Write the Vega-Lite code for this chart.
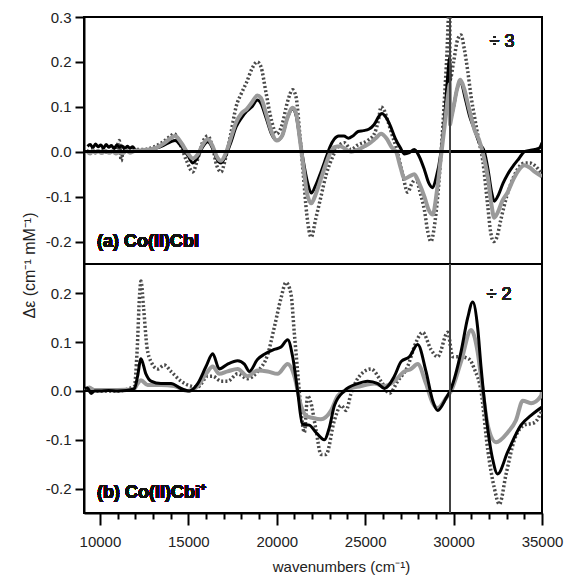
{
  "$schema": "https://vega.github.io/schema/vega-lite/v6.json",
  "background": "white",
  "padding": {"left": 20, "top": 9, "right": 0, "bottom": 0},
  "spacing": 0,
  "bounds": "flush",
  "config": {
    "font": "Liberation Sans",
    "view": {"stroke": "#000", "strokeWidth": 2},
    "axis": {
      "grid": false,
      "labelFont": "Liberation Sans",
      "titleFont": "Liberation Sans",
      "labelColor": "#222",
      "titleColor": "#222",
      "labelFontSize": 15,
      "titleFontSize": 15,
      "titleFontWeight": "normal",
      "domainColor": "#000",
      "domainWidth": 2,
      "tickColor": "#000",
      "tickWidth": 2
    }
  },
  "datasets": {
    "cbl": [
      {"s":"A","x":9300,"y":0.012},{"s":"A","x":9450,"y":0.016},{"s":"A","x":9600,"y":0.009},{"s":"A","x":9750,"y":0.017},{"s":"A","x":9900,"y":0.011},{"s":"A","x":10050,"y":0.015},{"s":"A","x":10200,"y":0.008},{"s":"A","x":10350,"y":0.016},{"s":"A","x":10500,"y":0.01},{"s":"A","x":10650,"y":0.014},{"s":"A","x":10800,"y":0.007},{"s":"A","x":10950,"y":0.015},{"s":"A","x":11100,"y":0.01},{"s":"A","x":11250,"y":0.013},{"s":"A","x":11400,"y":0.006},{"s":"A","x":11550,"y":0.012},{"s":"A","x":11700,"y":0.008},{"s":"A","x":11850,"y":0.011},{"s":"A","x":12000,"y":0.004},{"s":"A","x":12200,"y":0.002},{"s":"A","x":12500,"y":0.003},{"s":"A","x":12800,"y":0.005},{"s":"A","x":13200,"y":0.008},{"s":"A","x":13600,"y":0.014},{"s":"A","x":14000,"y":0.022},{"s":"A","x":14250,"y":0.025},{"s":"A","x":14600,"y":0.012},{"s":"A","x":15000,"y":-0.01},{"s":"A","x":15250,"y":-0.025},{"s":"A","x":15500,"y":-0.015},{"s":"A","x":15800,"y":0.01},{"s":"A","x":16100,"y":0.022},{"s":"A","x":16400,"y":0.005},{"s":"A","x":16600,"y":-0.015},{"s":"A","x":16850,"y":-0.025},{"s":"A","x":17100,"y":-0.01},{"s":"A","x":17400,"y":0.02},{"s":"A","x":17700,"y":0.055},{"s":"A","x":18000,"y":0.075},{"s":"A","x":18300,"y":0.09},{"s":"A","x":18600,"y":0.1},{"s":"A","x":18900,"y":0.115},{"s":"A","x":19100,"y":0.108},{"s":"A","x":19400,"y":0.075},{"s":"A","x":19700,"y":0.04},{"s":"A","x":20000,"y":0.025},{"s":"A","x":20300,"y":0.035},{"s":"A","x":20600,"y":0.075},{"s":"A","x":20900,"y":0.095},{"s":"A","x":21100,"y":0.08},{"s":"A","x":21300,"y":0.03},{"s":"A","x":21500,"y":-0.02},{"s":"A","x":21750,"y":-0.07},{"s":"A","x":21950,"y":-0.092},{"s":"A","x":22200,"y":-0.075},{"s":"A","x":22500,"y":-0.045},{"s":"A","x":22800,"y":-0.012},{"s":"A","x":23000,"y":0.01},{"s":"A","x":23250,"y":0.028},{"s":"A","x":23500,"y":0.035},{"s":"A","x":23800,"y":0.035},{"s":"A","x":24050,"y":0.03},{"s":"A","x":24300,"y":0.035},{"s":"A","x":24600,"y":0.045},{"s":"A","x":24900,"y":0.047},{"s":"A","x":25200,"y":0.05},{"s":"A","x":25500,"y":0.06},{"s":"A","x":25800,"y":0.08},{"s":"A","x":25950,"y":0.085},{"s":"A","x":26150,"y":0.078},{"s":"A","x":26400,"y":0.06},{"s":"A","x":26700,"y":0.03},{"s":"A","x":27000,"y":0.008},{"s":"A","x":27220,"y":-0.005},{"s":"A","x":27500,"y":-0.002},{"s":"A","x":27780,"y":0.005},{"s":"A","x":28050,"y":-0.01},{"s":"A","x":28350,"y":-0.04},{"s":"A","x":28600,"y":-0.07},{"s":"A","x":28820,"y":-0.08},{"s":"A","x":29000,"y":-0.06},{"s":"A","x":29290,"y":0.0},{"s":"A","x":29500,"y":0.08},{"s":"A","x":29670,"y":0.17},{"s":"A","x":29785,"y":0.21},{"s":"A","x":29795,"y":0.07},{"s":"A","x":30000,"y":0.1},{"s":"A","x":30200,"y":0.14},{"s":"A","x":30400,"y":0.155},{"s":"A","x":30650,"y":0.12},{"s":"A","x":30900,"y":0.08},{"s":"A","x":31175,"y":0.05},{"s":"A","x":31450,"y":0.02},{"s":"A","x":31740,"y":0.0},{"s":"A","x":31950,"y":-0.04},{"s":"A","x":32150,"y":-0.09},{"s":"A","x":32300,"y":-0.11},{"s":"A","x":32550,"y":-0.095},{"s":"A","x":32800,"y":-0.07},{"s":"A","x":33060,"y":-0.05},{"s":"A","x":33400,"y":-0.03},{"s":"A","x":33700,"y":-0.015},{"s":"A","x":34000,"y":0.0},{"s":"A","x":34300,"y":0.003},{"s":"A","x":34600,"y":0.005},{"s":"A","x":34850,"y":0.008},{"s":"A","x":35000,"y":0.02},

      {"s":"B","x":9300,"y":0.0},{"s":"B","x":9450,"y":-0.004},{"s":"B","x":9600,"y":0.003},{"s":"B","x":9750,"y":-0.002},{"s":"B","x":9900,"y":0.002},{"s":"B","x":10100,"y":-0.003},{"s":"B","x":10300,"y":0.002},{"s":"B","x":10500,"y":-0.002},{"s":"B","x":10700,"y":0.001},{"s":"B","x":10900,"y":-0.004},{"s":"B","x":11100,"y":0.0},{"s":"B","x":11300,"y":-0.003},{"s":"B","x":11500,"y":0.002},{"s":"B","x":11700,"y":-0.002},{"s":"B","x":11900,"y":0.001},{"s":"B","x":12300,"y":0.003},{"s":"B","x":12800,"y":0.005},{"s":"B","x":13200,"y":0.009},{"s":"B","x":13600,"y":0.018},{"s":"B","x":14000,"y":0.03},{"s":"B","x":14250,"y":0.035},{"s":"B","x":14600,"y":0.02},{"s":"B","x":15000,"y":-0.005},{"s":"B","x":15250,"y":-0.015},{"s":"B","x":15550,"y":-0.005},{"s":"B","x":15800,"y":0.015},{"s":"B","x":16100,"y":0.028},{"s":"B","x":16400,"y":0.01},{"s":"B","x":16600,"y":-0.01},{"s":"B","x":16850,"y":-0.02},{"s":"B","x":17100,"y":-0.005},{"s":"B","x":17400,"y":0.03},{"s":"B","x":17700,"y":0.065},{"s":"B","x":18000,"y":0.085},{"s":"B","x":18300,"y":0.095},{"s":"B","x":18600,"y":0.11},{"s":"B","x":18900,"y":0.125},{"s":"B","x":19100,"y":0.12},{"s":"B","x":19400,"y":0.085},{"s":"B","x":19700,"y":0.045},{"s":"B","x":20000,"y":0.025},{"s":"B","x":20300,"y":0.035},{"s":"B","x":20600,"y":0.075},{"s":"B","x":20900,"y":0.098},{"s":"B","x":21100,"y":0.085},{"s":"B","x":21300,"y":0.03},{"s":"B","x":21500,"y":-0.03},{"s":"B","x":21700,"y":-0.09},{"s":"B","x":21950,"y":-0.115},{"s":"B","x":22200,"y":-0.095},{"s":"B","x":22500,"y":-0.06},{"s":"B","x":22800,"y":-0.025},{"s":"B","x":23000,"y":-0.005},{"s":"B","x":23250,"y":0.01},{"s":"B","x":23600,"y":0.012},{"s":"B","x":24000,"y":0.003},{"s":"B","x":24200,"y":0.0},{"s":"B","x":24600,"y":0.005},{"s":"B","x":24950,"y":0.012},{"s":"B","x":25300,"y":0.02},{"s":"B","x":25600,"y":0.03},{"s":"B","x":25900,"y":0.04},{"s":"B","x":26200,"y":0.03},{"s":"B","x":26500,"y":0.01},{"s":"B","x":26750,"y":0.0},{"s":"B","x":27000,"y":-0.035},{"s":"B","x":27220,"y":-0.06},{"s":"B","x":27500,"y":-0.055},{"s":"B","x":27780,"y":-0.05},{"s":"B","x":28050,"y":-0.07},{"s":"B","x":28350,"y":-0.1},{"s":"B","x":28600,"y":-0.13},{"s":"B","x":28820,"y":-0.14},{"s":"B","x":29050,"y":-0.09},{"s":"B","x":29290,"y":-0.01},{"s":"B","x":29500,"y":0.06},{"s":"B","x":29700,"y":0.13},{"s":"B","x":29785,"y":0.15},{"s":"B","x":29795,"y":0.06},{"s":"B","x":29850,"y":0.07},{"s":"B","x":30000,"y":0.1},{"s":"B","x":30200,"y":0.14},{"s":"B","x":30380,"y":0.16},{"s":"B","x":30600,"y":0.14},{"s":"B","x":30850,"y":0.1},{"s":"B","x":31175,"y":0.05},{"s":"B","x":31450,"y":0.025},{"s":"B","x":31700,"y":-0.01},{"s":"B","x":31950,"y":-0.06},{"s":"B","x":32150,"y":-0.12},{"s":"B","x":32300,"y":-0.147},{"s":"B","x":32500,"y":-0.135},{"s":"B","x":32750,"y":-0.11},{"s":"B","x":33060,"y":-0.09},{"s":"B","x":33400,"y":-0.06},{"s":"B","x":33700,"y":-0.04},{"s":"B","x":34000,"y":-0.03},{"s":"B","x":34300,"y":-0.035},{"s":"B","x":34600,"y":-0.045},{"s":"B","x":35000,"y":-0.055},

      {"s":"C","x":9300,"y":0.0},{"s":"C","x":9500,"y":0.005},{"s":"C","x":9800,"y":-0.003},{"s":"C","x":10100,"y":0.004},{"s":"C","x":10500,"y":-0.002},{"s":"C","x":10900,"y":0.003},{"s":"C","x":11100,"y":0.025},{"s":"C","x":11200,"y":-0.02},{"s":"C","x":11350,"y":0.01},{"s":"C","x":11600,"y":0.0},{"s":"C","x":12000,"y":0.005},{"s":"C","x":12500,"y":0.005},{"s":"C","x":13000,"y":0.01},{"s":"C","x":13500,"y":0.02},{"s":"C","x":14000,"y":0.035},{"s":"C","x":14200,"y":0.04},{"s":"C","x":14500,"y":0.02},{"s":"C","x":14900,"y":-0.02},{"s":"C","x":15250,"y":-0.045},{"s":"C","x":15500,"y":-0.02},{"s":"C","x":15800,"y":0.02},{"s":"C","x":16100,"y":0.035},{"s":"C","x":16400,"y":0.005},{"s":"C","x":16600,"y":-0.03},{"s":"C","x":16850,"y":-0.045},{"s":"C","x":17100,"y":-0.015},{"s":"C","x":17400,"y":0.04},{"s":"C","x":17700,"y":0.1},{"s":"C","x":18000,"y":0.13},{"s":"C","x":18300,"y":0.155},{"s":"C","x":18600,"y":0.185},{"s":"C","x":18900,"y":0.2},{"s":"C","x":19100,"y":0.19},{"s":"C","x":19400,"y":0.13},{"s":"C","x":19700,"y":0.07},{"s":"C","x":20000,"y":0.04},{"s":"C","x":20300,"y":0.06},{"s":"C","x":20600,"y":0.11},{"s":"C","x":20900,"y":0.138},{"s":"C","x":21100,"y":0.12},{"s":"C","x":21300,"y":0.04},{"s":"C","x":21500,"y":-0.05},{"s":"C","x":21700,"y":-0.14},{"s":"C","x":21950,"y":-0.19},{"s":"C","x":22200,"y":-0.15},{"s":"C","x":22500,"y":-0.1},{"s":"C","x":22800,"y":-0.05},{"s":"C","x":23070,"y":-0.02},{"s":"C","x":23450,"y":0.01},{"s":"C","x":23820,"y":0.02},{"s":"C","x":24200,"y":0.005},{"s":"C","x":24580,"y":0.015},{"s":"C","x":25140,"y":0.025},{"s":"C","x":25520,"y":0.04},{"s":"C","x":25750,"y":0.07},{"s":"C","x":25900,"y":0.1},{"s":"C","x":26100,"y":0.09},{"s":"C","x":26270,"y":0.07},{"s":"C","x":26500,"y":0.04},{"s":"C","x":26750,"y":0.01},{"s":"C","x":27120,"y":-0.05},{"s":"C","x":27400,"y":-0.09},{"s":"C","x":27650,"y":-0.07},{"s":"C","x":27880,"y":-0.06},{"s":"C","x":28100,"y":-0.09},{"s":"C","x":28350,"y":-0.13},{"s":"C","x":28550,"y":-0.18},{"s":"C","x":28720,"y":-0.2},{"s":"C","x":28900,"y":-0.17},{"s":"C","x":29100,"y":-0.1},{"s":"C","x":29380,"y":0.05},{"s":"C","x":29600,"y":0.2},{"s":"C","x":29785,"y":0.34},{"s":"C","x":29795,"y":0.16},{"s":"C","x":30000,"y":0.2},{"s":"C","x":30230,"y":0.25},{"s":"C","x":30420,"y":0.26},{"s":"C","x":30600,"y":0.23},{"s":"C","x":30800,"y":0.18},{"s":"C","x":31000,"y":0.12},{"s":"C","x":31175,"y":0.08},{"s":"C","x":31400,"y":0.03},{"s":"C","x":31650,"y":-0.02},{"s":"C","x":31930,"y":-0.12},{"s":"C","x":32100,"y":-0.18},{"s":"C","x":32270,"y":-0.2},{"s":"C","x":32450,"y":-0.19},{"s":"C","x":32680,"y":-0.15},{"s":"C","x":33000,"y":-0.1},{"s":"C","x":33250,"y":-0.07},{"s":"C","x":33600,"y":-0.04},{"s":"C","x":34000,"y":-0.025},{"s":"C","x":34300,"y":-0.025},{"s":"C","x":34570,"y":-0.03},{"s":"C","x":35000,"y":-0.05}
    ],
    "cbi": [
      {"s":"A","x":9120,"y":0.005},{"s":"A","x":9300,"y":0.006},{"s":"A","x":9500,"y":-0.005},{"s":"A","x":9700,"y":0.0},{"s":"A","x":10000,"y":0.0},{"s":"A","x":10500,"y":0.001},{"s":"A","x":11000,"y":0.0},{"s":"A","x":11500,"y":0.001},{"s":"A","x":11950,"y":0.005},{"s":"A","x":12130,"y":0.03},{"s":"A","x":12320,"y":0.066},{"s":"A","x":12600,"y":0.035},{"s":"A","x":12890,"y":0.02},{"s":"A","x":13450,"y":0.015},{"s":"A","x":14020,"y":0.015},{"s":"A","x":14580,"y":0.005},{"s":"A","x":15050,"y":0.0},{"s":"A","x":15530,"y":0.015},{"s":"A","x":16000,"y":0.05},{"s":"A","x":16380,"y":0.076},{"s":"A","x":16750,"y":0.045},{"s":"A","x":17220,"y":0.055},{"s":"A","x":17790,"y":0.062},{"s":"A","x":18170,"y":0.055},{"s":"A","x":18450,"y":0.04},{"s":"A","x":18920,"y":0.065},{"s":"A","x":19300,"y":0.075},{"s":"A","x":19860,"y":0.085},{"s":"A","x":20240,"y":0.09},{"s":"A","x":20620,"y":0.105},{"s":"A","x":20900,"y":0.07},{"s":"A","x":21180,"y":0.0},{"s":"A","x":21450,"y":-0.068},{"s":"A","x":21840,"y":-0.07},{"s":"A","x":22220,"y":-0.085},{"s":"A","x":22690,"y":-0.1},{"s":"A","x":22975,"y":-0.075},{"s":"A","x":23260,"y":-0.03},{"s":"A","x":23820,"y":0.0},{"s":"A","x":24580,"y":0.015},{"s":"A","x":25140,"y":0.02},{"s":"A","x":25710,"y":0.015},{"s":"A","x":26090,"y":0.005},{"s":"A","x":26650,"y":0.03},{"s":"A","x":27030,"y":0.06},{"s":"A","x":27500,"y":0.07},{"s":"A","x":27970,"y":0.095},{"s":"A","x":28440,"y":0.04},{"s":"A","x":28820,"y":-0.02},{"s":"A","x":29100,"y":-0.04},{"s":"A","x":29570,"y":-0.015},{"s":"A","x":29860,"y":0.005},{"s":"A","x":30420,"y":0.08},{"s":"A","x":30800,"y":0.15},{"s":"A","x":31080,"y":0.182},{"s":"A","x":31360,"y":0.13},{"s":"A","x":31550,"y":0.05},{"s":"A","x":31835,"y":-0.05},{"s":"A","x":32210,"y":-0.14},{"s":"A","x":32490,"y":-0.17},{"s":"A","x":33060,"y":-0.125},{"s":"A","x":33810,"y":-0.07},{"s":"A","x":34380,"y":-0.05},{"s":"A","x":35000,"y":-0.033},

      {"s":"B","x":9120,"y":0.0},{"s":"B","x":9400,"y":0.007},{"s":"B","x":9680,"y":0.002},{"s":"B","x":10000,"y":0.002},{"s":"B","x":11000,"y":0.002},{"s":"B","x":11900,"y":0.003},{"s":"B","x":12130,"y":0.015},{"s":"B","x":12320,"y":0.022},{"s":"B","x":12700,"y":0.012},{"s":"B","x":13450,"y":0.012},{"s":"B","x":14200,"y":0.01},{"s":"B","x":14960,"y":0.0},{"s":"B","x":15530,"y":0.01},{"s":"B","x":16000,"y":0.035},{"s":"B","x":16380,"y":0.05},{"s":"B","x":16750,"y":0.035},{"s":"B","x":17220,"y":0.04},{"s":"B","x":17790,"y":0.045},{"s":"B","x":18350,"y":0.03},{"s":"B","x":18920,"y":0.042},{"s":"B","x":19490,"y":0.04},{"s":"B","x":20050,"y":0.035},{"s":"B","x":20620,"y":0.055},{"s":"B","x":21000,"y":0.03},{"s":"B","x":21370,"y":-0.03},{"s":"B","x":21700,"y":-0.052},{"s":"B","x":22000,"y":-0.055},{"s":"B","x":22500,"y":-0.058},{"s":"B","x":23070,"y":-0.04},{"s":"B","x":23450,"y":-0.01},{"s":"B","x":23820,"y":0.0},{"s":"B","x":24770,"y":0.01},{"s":"B","x":25520,"y":0.015},{"s":"B","x":26090,"y":0.01},{"s":"B","x":26650,"y":0.02},{"s":"B","x":27220,"y":0.04},{"s":"B","x":27590,"y":0.045},{"s":"B","x":27970,"y":0.055},{"s":"B","x":28440,"y":0.015},{"s":"B","x":28820,"y":-0.025},{"s":"B","x":29100,"y":-0.035},{"s":"B","x":29570,"y":-0.015},{"s":"B","x":29860,"y":0.0},{"s":"B","x":30420,"y":0.06},{"s":"B","x":30990,"y":0.125},{"s":"B","x":31360,"y":0.08},{"s":"B","x":31650,"y":0.0},{"s":"B","x":31930,"y":-0.07},{"s":"B","x":32400,"y":-0.105},{"s":"B","x":33060,"y":-0.085},{"s":"B","x":33530,"y":-0.06},{"s":"B","x":33910,"y":-0.02},{"s":"B","x":34380,"y":-0.025},{"s":"B","x":34945,"y":-0.01},{"s":"B","x":35000,"y":0.0},

      {"s":"C","x":9120,"y":0.005},{"s":"C","x":9500,"y":0.0},{"s":"C","x":10000,"y":0.0},{"s":"C","x":11000,"y":0.0},{"s":"C","x":11950,"y":0.01},{"s":"C","x":12100,"y":0.08},{"s":"C","x":12250,"y":0.2},{"s":"C","x":12320,"y":0.225},{"s":"C","x":12470,"y":0.17},{"s":"C","x":12660,"y":0.09},{"s":"C","x":12890,"y":0.06},{"s":"C","x":13270,"y":0.045},{"s":"C","x":13640,"y":0.053},{"s":"C","x":14020,"y":0.04},{"s":"C","x":14590,"y":0.02},{"s":"C","x":15150,"y":0.01},{"s":"C","x":15530,"y":0.008},{"s":"C","x":16090,"y":0.03},{"s":"C","x":16380,"y":0.03},{"s":"C","x":16850,"y":0.02},{"s":"C","x":17220,"y":0.02},{"s":"C","x":17790,"y":0.035},{"s":"C","x":18350,"y":0.025},{"s":"C","x":18920,"y":0.04},{"s":"C","x":19490,"y":0.075},{"s":"C","x":19860,"y":0.13},{"s":"C","x":20240,"y":0.19},{"s":"C","x":20520,"y":0.222},{"s":"C","x":20800,"y":0.2},{"s":"C","x":20990,"y":0.12},{"s":"C","x":21180,"y":0.04},{"s":"C","x":21370,"y":-0.04},{"s":"C","x":21560,"y":-0.085},{"s":"C","x":21750,"y":-0.01},{"s":"C","x":21900,"y":-0.02},{"s":"C","x":22220,"y":-0.08},{"s":"C","x":22500,"y":-0.13},{"s":"C","x":22790,"y":-0.13},{"s":"C","x":23260,"y":-0.06},{"s":"C","x":23640,"y":-0.03},{"s":"C","x":23920,"y":-0.04},{"s":"C","x":24200,"y":-0.005},{"s":"C","x":24670,"y":0.03},{"s":"C","x":25330,"y":0.045},{"s":"C","x":25900,"y":0.02},{"s":"C","x":26370,"y":-0.005},{"s":"C","x":26840,"y":0.02},{"s":"C","x":27400,"y":0.05},{"s":"C","x":27880,"y":0.1},{"s":"C","x":28250,"y":0.12},{"s":"C","x":28720,"y":0.085},{"s":"C","x":29100,"y":0.07},{"s":"C","x":29670,"y":0.12},{"s":"C","x":29950,"y":0.07},{"s":"C","x":30420,"y":0.07},{"s":"C","x":30890,"y":0.065},{"s":"C","x":31175,"y":0.045},{"s":"C","x":31550,"y":0.0},{"s":"C","x":31930,"y":-0.12},{"s":"C","x":32310,"y":-0.2},{"s":"C","x":32590,"y":-0.232},{"s":"C","x":32970,"y":-0.17},{"s":"C","x":33440,"y":-0.1},{"s":"C","x":34000,"y":-0.07},{"s":"C","x":34570,"y":-0.065},{"s":"C","x":35000,"y":-0.04}
    ]
  },
  "vconcat": [
    {
      "width": 458,
      "height": 247,
      "data": {"name": "cbl"},
      "layer": [
        {
          "transform": [{"filter": "datum.s === 'C'"}],
          "mark": {"type": "line", "color": "#4a4a4a", "strokeWidth": 3.5, "strokeDash": [2, 2.2], "clip": true, "interpolate": "monotone"},
          "encoding": {
            "x": {"field": "x", "type": "quantitative", "scale": {"domain": [9100, 35000], "nice": false, "zero": false}, "axis": null},
            "y": {"field": "y", "type": "quantitative", "scale": {"domain": [-0.25, 0.3], "nice": false, "zero": false},
              "axis": {"values": [-0.2, -0.1, 0, 0.1, 0.2, 0.3], "labelExpr": "datum.value < 0 ? '-' + format(-datum.value, '.1f') : format(datum.value, '.1f')", "labelOverlap": false, "tickSize": 9, "labelPadding": 4, "title": "Δε (cm⁻¹ mM⁻¹)", "titleFontSize": 16, "titleY": 248, "titlePadding": 8}}
          }
        },
        {
          "transform": [{"filter": "datum.s === 'A'"}],
          "mark": {"type": "line", "color": "#000", "strokeWidth": 3, "clip": true, "interpolate": "monotone"},
          "encoding": {
            "x": {"field": "x", "type": "quantitative", "axis": null},
            "y": {"field": "y", "type": "quantitative",
              "axis": {"values": [-0.2, -0.1, 0, 0.1, 0.2, 0.3], "labelExpr": "datum.value < 0 ? '-' + format(-datum.value, '.1f') : format(datum.value, '.1f')", "labelOverlap": false, "tickSize": 9, "labelPadding": 4, "title": "Δε (cm⁻¹ mM⁻¹)", "titleFontSize": 16, "titleY": 248, "titlePadding": 8}}
          }
        },
        {
          "transform": [{"filter": "datum.s === 'B'"}],
          "mark": {"type": "line", "color": "#9a9a9a", "strokeWidth": 4, "clip": true, "interpolate": "monotone"},
          "encoding": {
            "x": {"field": "x", "type": "quantitative", "axis": null},
            "y": {"field": "y", "type": "quantitative",
              "axis": {"values": [-0.2, -0.1, 0, 0.1, 0.2, 0.3], "labelExpr": "datum.value < 0 ? '-' + format(-datum.value, '.1f') : format(datum.value, '.1f')", "labelOverlap": false, "tickSize": 9, "labelPadding": 4, "title": "Δε (cm⁻¹ mM⁻¹)", "titleFontSize": 16, "titleY": 248, "titlePadding": 8}}
          }
        },
        {
          "mark": {"type": "rule", "color": "#000", "strokeWidth": 2},
          "encoding": {
            "y": {"datum": 0, "type": "quantitative",
              "axis": {"values": [-0.2, -0.1, 0, 0.1, 0.2, 0.3], "labelExpr": "datum.value < 0 ? '-' + format(-datum.value, '.1f') : format(datum.value, '.1f')", "labelOverlap": false, "tickSize": 9, "labelPadding": 4, "title": "Δε (cm⁻¹ mM⁻¹)", "titleFontSize": 16, "titleY": 248, "titlePadding": 8}}
          }
        },
        {
          "mark": {"type": "rule", "color": "#444", "strokeWidth": 1.5},
          "encoding": {"x": {"datum": 29790, "type": "quantitative", "axis": null}}
        },
        {
          "mark": {"type": "text", "text": "(a) Co(II)Cbl", "fontSize": 18, "fontWeight": "bold", "align": "left", "baseline": "middle", "color": "#111"},
          "encoding": {
            "x": {"datum": 9835, "type": "quantitative", "axis": null},
            "y": {"datum": -0.2, "type": "quantitative",
              "axis": {"values": [-0.2, -0.1, 0, 0.1, 0.2, 0.3], "labelExpr": "datum.value < 0 ? '-' + format(-datum.value, '.1f') : format(datum.value, '.1f')", "labelOverlap": false, "tickSize": 9, "labelPadding": 4, "title": "Δε (cm⁻¹ mM⁻¹)", "titleFontSize": 16, "titleY": 248, "titlePadding": 8}}
          }
        },
        {
          "mark": {"type": "text", "text": "÷ 3", "fontSize": 18, "align": "center", "baseline": "middle", "color": "#222"},
          "encoding": {
            "x": {"datum": 32740, "type": "quantitative", "axis": null},
            "y": {"datum": 0.244, "type": "quantitative",
              "axis": {"values": [-0.2, -0.1, 0, 0.1, 0.2, 0.3], "labelExpr": "datum.value < 0 ? '-' + format(-datum.value, '.1f') : format(datum.value, '.1f')", "labelOverlap": false, "tickSize": 9, "labelPadding": 4, "title": "Δε (cm⁻¹ mM⁻¹)", "titleFontSize": 16, "titleY": 248, "titlePadding": 8}}
          }
        }
      ]
    },
    {
      "width": 458,
      "height": 249,
      "data": {"name": "cbi"},
      "layer": [
        {
          "transform": [{"filter": "datum.s === 'C'"}],
          "mark": {"type": "line", "color": "#4a4a4a", "strokeWidth": 3.5, "strokeDash": [2, 2.2], "clip": true, "interpolate": "monotone"},
          "encoding": {
            "x": {"field": "x", "type": "quantitative", "scale": {"domain": [9100, 35000], "nice": false, "zero": false},
              "axis": {"values": [10000, 11000, 12000, 13000, 14000, 15000, 16000, 17000, 18000, 19000, 20000, 21000, 22000, 23000, 24000, 25000, 26000, 27000, 28000, 29000, 30000, 31000, 32000, 33000, 34000, 35000], "format": "d", "labelExpr": "datum.value % 5000 === 0 ? datum.label : ''", "tickSize": {"condition": {"test": "datum.value % 5000 === 0", "value": 12}, "value": 6}, "labelPadding": 9, "labelOverlap": false, "labelFlush": false, "title": "wavenumbers (cm⁻¹)", "titleX": 257, "titlePadding": 10}},
            "y": {"field": "y", "type": "quantitative", "scale": {"domain": [-0.25, 0.26], "nice": false, "zero": false},
              "axis": {"values": [-0.2, -0.1, 0, 0.1, 0.2], "labelExpr": "datum.value < 0 ? '-' + format(-datum.value, '.1f') : format(datum.value, '.1f')", "labelOverlap": false, "tickSize": 9, "labelPadding": 4, "title": null}}
          }
        },
        {
          "transform": [{"filter": "datum.s === 'B'"}],
          "mark": {"type": "line", "color": "#9a9a9a", "strokeWidth": 4, "clip": true, "interpolate": "monotone"},
          "encoding": {
            "x": {"field": "x", "type": "quantitative",
              "axis": {"values": [10000, 11000, 12000, 13000, 14000, 15000, 16000, 17000, 18000, 19000, 20000, 21000, 22000, 23000, 24000, 25000, 26000, 27000, 28000, 29000, 30000, 31000, 32000, 33000, 34000, 35000], "format": "d", "labelExpr": "datum.value % 5000 === 0 ? datum.label : ''", "tickSize": {"condition": {"test": "datum.value % 5000 === 0", "value": 12}, "value": 6}, "labelPadding": 9, "labelOverlap": false, "labelFlush": false, "title": "wavenumbers (cm⁻¹)", "titleX": 257, "titlePadding": 10}},
            "y": {"field": "y", "type": "quantitative",
              "axis": {"values": [-0.2, -0.1, 0, 0.1, 0.2], "labelExpr": "datum.value < 0 ? '-' + format(-datum.value, '.1f') : format(datum.value, '.1f')", "labelOverlap": false, "tickSize": 9, "labelPadding": 4, "title": null}}
          }
        },
        {
          "transform": [{"filter": "datum.s === 'A'"}],
          "mark": {"type": "line", "color": "#000", "strokeWidth": 3, "clip": true, "interpolate": "monotone"},
          "encoding": {
            "x": {"field": "x", "type": "quantitative",
              "axis": {"values": [10000, 11000, 12000, 13000, 14000, 15000, 16000, 17000, 18000, 19000, 20000, 21000, 22000, 23000, 24000, 25000, 26000, 27000, 28000, 29000, 30000, 31000, 32000, 33000, 34000, 35000], "format": "d", "labelExpr": "datum.value % 5000 === 0 ? datum.label : ''", "tickSize": {"condition": {"test": "datum.value % 5000 === 0", "value": 12}, "value": 6}, "labelPadding": 9, "labelOverlap": false, "labelFlush": false, "title": "wavenumbers (cm⁻¹)", "titleX": 257, "titlePadding": 10}},
            "y": {"field": "y", "type": "quantitative",
              "axis": {"values": [-0.2, -0.1, 0, 0.1, 0.2], "labelExpr": "datum.value < 0 ? '-' + format(-datum.value, '.1f') : format(datum.value, '.1f')", "labelOverlap": false, "tickSize": 9, "labelPadding": 4, "title": null}}
          }
        },
        {
          "mark": {"type": "rule", "color": "#000", "strokeWidth": 2},
          "encoding": {
            "y": {"datum": 0, "type": "quantitative",
              "axis": {"values": [-0.2, -0.1, 0, 0.1, 0.2], "labelExpr": "datum.value < 0 ? '-' + format(-datum.value, '.1f') : format(datum.value, '.1f')", "labelOverlap": false, "tickSize": 9, "labelPadding": 4, "title": null}}
          }
        },
        {
          "mark": {"type": "rule", "color": "#444", "strokeWidth": 1.5},
          "encoding": {
            "x": {"datum": 29790, "type": "quantitative",
              "axis": {"values": [10000, 11000, 12000, 13000, 14000, 15000, 16000, 17000, 18000, 19000, 20000, 21000, 22000, 23000, 24000, 25000, 26000, 27000, 28000, 29000, 30000, 31000, 32000, 33000, 34000, 35000], "format": "d", "labelExpr": "datum.value % 5000 === 0 ? datum.label : ''", "tickSize": {"condition": {"test": "datum.value % 5000 === 0", "value": 12}, "value": 6}, "labelPadding": 9, "labelOverlap": false, "labelFlush": false, "title": "wavenumbers (cm⁻¹)", "titleX": 257, "titlePadding": 10}}
          }
        },
        {
          "mark": {"type": "text", "text": "(b) Co(II)Cbi⁺", "fontSize": 18, "fontWeight": "bold", "align": "left", "baseline": "middle", "color": "#111"},
          "encoding": {
            "x": {"datum": 9835, "type": "quantitative",
              "axis": {"values": [10000, 11000, 12000, 13000, 14000, 15000, 16000, 17000, 18000, 19000, 20000, 21000, 22000, 23000, 24000, 25000, 26000, 27000, 28000, 29000, 30000, 31000, 32000, 33000, 34000, 35000], "format": "d", "labelExpr": "datum.value % 5000 === 0 ? datum.label : ''", "tickSize": {"condition": {"test": "datum.value % 5000 === 0", "value": 12}, "value": 6}, "labelPadding": 9, "labelOverlap": false, "labelFlush": false, "title": "wavenumbers (cm⁻¹)", "titleX": 257, "titlePadding": 10}},
            "y": {"datum": -0.21, "type": "quantitative",
              "axis": {"values": [-0.2, -0.1, 0, 0.1, 0.2], "labelExpr": "datum.value < 0 ? '-' + format(-datum.value, '.1f') : format(datum.value, '.1f')", "labelOverlap": false, "tickSize": 9, "labelPadding": 4, "title": null}}
          }
        },
        {
          "mark": {"type": "text", "text": "÷ 2", "fontSize": 18, "align": "center", "baseline": "middle", "color": "#222"},
          "encoding": {
            "x": {"datum": 32570, "type": "quantitative",
              "axis": {"values": [10000, 11000, 12000, 13000, 14000, 15000, 16000, 17000, 18000, 19000, 20000, 21000, 22000, 23000, 24000, 25000, 26000, 27000, 28000, 29000, 30000, 31000, 32000, 33000, 34000, 35000], "format": "d", "labelExpr": "datum.value % 5000 === 0 ? datum.label : ''", "tickSize": {"condition": {"test": "datum.value % 5000 === 0", "value": 12}, "value": 6}, "labelPadding": 9, "labelOverlap": false, "labelFlush": false, "title": "wavenumbers (cm⁻¹)", "titleX": 257, "titlePadding": 10}},
            "y": {"datum": 0.196, "type": "quantitative",
              "axis": {"values": [-0.2, -0.1, 0, 0.1, 0.2], "labelExpr": "datum.value < 0 ? '-' + format(-datum.value, '.1f') : format(datum.value, '.1f')", "labelOverlap": false, "tickSize": 9, "labelPadding": 4, "title": null}}
          }
        }
      ]
    }
  ]
}
